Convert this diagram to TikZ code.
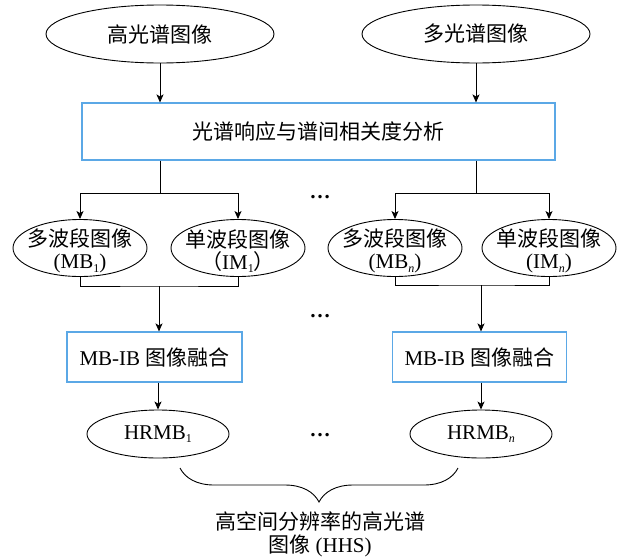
\documentclass[tikz,border=0pt]{standalone}
\usepackage{fontspec}
\setmainfont{Liberation Serif}
\newfontfamily\cjk{Noto Sans CJK SC}
\usetikzlibrary{shapes.geometric,arrows.meta,decorations.pathreplacing}
\definecolor{boxblue}{RGB}{91,168,230}
\newcommand\sbr[1]{\raisebox{-0.35ex}{\fontsize{12}{12}\selectfont #1}}
\begin{document}
\begin{tikzpicture}[x=1pt,y=-1pt,
  font=\fontsize{21}{23}\selectfont,
  ell/.style={draw, ellipse, line width=0.9pt, inner sep=0pt},
  blbox/.style={draw=boxblue, rectangle, line width=1.1pt, inner sep=0pt},
  txt/.style={inner sep=0pt, align=center, font=\fontsize{21}{22}\selectfont},
  conn/.style={line width=0.9pt},
  arr/.style={conn, -{Stealth[length=8pt,width=7pt,inset=2pt]}}
]
\useasboundingbox (0,0) rectangle (620,557);

% top ellipses
\node[ell, minimum width=228pt, minimum height=58pt,
  label={[txt]center:{\cjk 高光谱图像}}] (hs) at (160,34) {};
\node[ell, minimum width=228pt, minimum height=58pt,
  label={[txt]center:{\cjk 多光谱图像}}] (ms) at (476,34) {};

% analysis box
\node[blbox, minimum width=473pt, minimum height=57pt] (ana) at (318.5,131.5)
  {\cjk 光谱响应与谱间相关度分析};

\draw[arr] (hs.south) -- (hs.south |- ana.north);
\draw[arr] (ms.south) -- (ms.south |- ana.north);

% level-2 ellipses
\node[ell, minimum width=134pt, minimum height=57pt,
  label={[txt, yshift=-3pt]center:{{\cjk 多波段图像}\\(MB\sbr{1})}}] (mb1) at (80,248) {};
\node[ell, minimum width=134pt, minimum height=57pt,
  label={[txt, yshift=-3pt]center:{{\cjk 单波段图像}\\{\cjk （}IM\sbr{1}{\cjk ）}}}] (im1) at (238,248) {};
\node[ell, minimum width=134pt, minimum height=57pt,
  label={[txt, yshift=-3pt]center:{{\cjk 多波段图像}\\(MB\sbr{\textit{n}})}}] (mbn) at (395,248) {};
\node[ell, minimum width=134pt, minimum height=57pt,
  label={[txt, yshift=-3pt]center:{{\cjk 单波段图像}\\(IM\sbr{\textit{n}})}}] (imn) at (549,248) {};

\coordinate (j1) at (160,193);
\coordinate (j2) at (476,193);
\draw[conn] (ana.south -| j1) -- (j1);
\draw[conn] (ana.south -| j2) -- (j2);
\draw[arr] (j1) -| (mb1.north);
\draw[arr] (j1) -| (im1.north);
\draw[arr] (j2) -| (mbn.north);
\draw[arr] (j2) -| (imn.north);

% fusion boxes
\node[blbox, minimum width=175pt, minimum height=50pt] (fu1) at (154.5,357)
  {MB-IB {\cjk 图像融合}};
\node[blbox, minimum width=174pt, minimum height=50pt] (fun) at (479.5,357)
  {MB-IB {\cjk 图像融合}};

\coordinate (k1) at (159,286);
\coordinate (k2) at (481,285);
\draw[conn] (mb1.south) |- (k1) -| (im1.south);
\draw[conn] (mbn.south) |- (k2) -| (imn.south);
\draw[arr] (k1) -- (k1 |- fu1.north);
\draw[arr] (k2) -- (k2 |- fun.north);

% HRMB ellipses
\node[ell, minimum width=142pt, minimum height=48pt,
  label={[txt]center:{HRMB\sbr{1}}}] (hr1) at (158,434) {};
\node[ell, minimum width=142pt, minimum height=48pt,
  label={[txt]center:{HRMB\sbr{\textit{n}}}}] (hrn) at (481,434) {};
\draw[arr] (hr1.north |- fu1.south) -- (hr1.north);
\draw[arr] (hrn.north |- fun.south) -- (hrn.north);

% dots
\node[txt, anchor=base] (d1) at (320,198) {\textbf{…}};
\node[txt, anchor=base] (d2) at (320,317) {\textbf{…}};
\node[txt, anchor=base] (d3) at (320,436) {\textbf{…}};

% brace
\coordinate (b1) at (180,468);
\coordinate (b2) at (458,468);
\draw[conn, decorate, decoration={brace, mirror, amplitude=34pt}] (b1) -- (b2);

\node[txt, font=\fontsize{21}{23}\selectfont] (hhs) at (320,534)
  {{\cjk 高空间分辨率的高光谱}\\{\cjk 图像} (HHS)};
\end{tikzpicture}
\end{document}
